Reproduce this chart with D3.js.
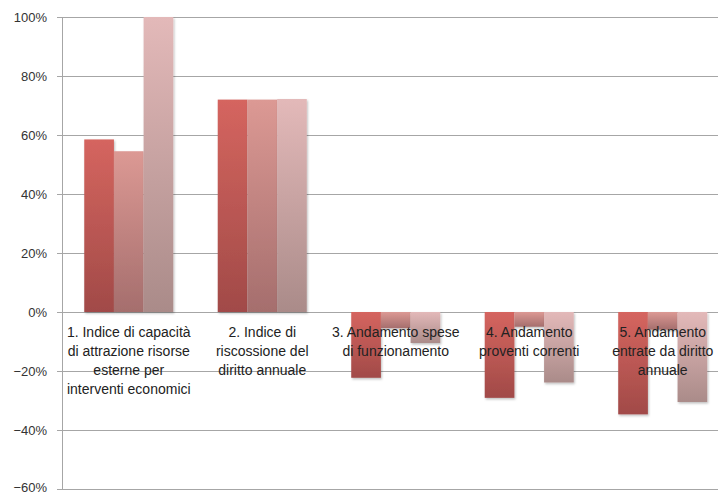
<!DOCTYPE html>
<html>
<head>
<meta charset="utf-8">
<script src="https://cdn.jsdelivr.net/npm/d3@7"></script>
<style>
  body { margin: 0; background: #fff; }
  svg { display: block; font-family: "Liberation Sans", Arial, sans-serif; }
  .tick-label { font-size: 13px; fill: #333; }
  .cat-label { font-size: 14px; fill: #222; }
</style>
</head>
<body>
<svg width="718" height="494"></svg>
<script>
// categories (each already split into the lines seen on the chart)
const categories = ['c1', 'c2', 'c3', 'c4', 'c5'];
const categoryLines = [
  ['1. Indice di capacità', 'di attrazione risorse', 'esterne per', 'interventi economici'],
  ['2. Indice di', 'riscossione del', 'diritto annuale'],
  ['3. Andamento spese', 'di funzionamento'],
  ['4. Andamento', 'proventi correnti'],
  ['5. Andamento', 'entrate da diritto', 'annuale']
];
const series1 = [0.585, 0.72, -0.223, -0.291, -0.347];
const series2 = [0.545, 0.72, -0.055, -0.05, -0.06];
const series3 = [1.0, 0.722, -0.105, -0.239, -0.305];
const yTicks = [-0.6, -0.4, -0.2, 0, 0.2, 0.4, 0.6, 0.8, 1.0];

const allSeries = [series1, series2, series3];
const gradColors = [
  ['#d5655f', '#a14a48'],
  ['#dc9994', '#a56e6d'],
  ['#e3b9b9', '#aa8b89']
];

const svg = d3.select('svg');
const plotLeft = 62, plotRight = 729.5, plotTop = 17, plotBottom = 489;

const y = d3.scaleLinear().domain([-0.6, 1.0]).range([plotBottom, plotTop]);
const x = d3.scaleBand().domain(categories).range([plotLeft, plotRight])
  .paddingInner(0.333).paddingOuter(0.1667);
const xs = d3.scaleBand().domain(d3.range(allSeries.length)).range([0, x.bandwidth()]);

const defs = svg.append('defs');
gradColors.forEach((c, i) => {
  const g = defs.append('linearGradient').attr('id', 'g' + i)
    .attr('x1', 0).attr('y1', 0).attr('x2', 0).attr('y2', 1);
  g.append('stop').attr('offset', '0%').attr('stop-color', c[0]);
  g.append('stop').attr('offset', '100%').attr('stop-color', c[1]);
});
const shadow = defs.append('filter').attr('id', 'shadow')
  .attr('x', '-20%').attr('y', '-20%').attr('width', '140%').attr('height', '140%');
shadow.append('feDropShadow').attr('dx', 1).attr('dy', 1.5).attr('stdDeviation', 1)
  .attr('flood-color', '#000').attr('flood-opacity', 0.25);

// gridlines
svg.append('g').selectAll('line').data(yTicks).enter().append('line')
  .attr('x1', plotLeft - 5).attr('x2', 718)
  .attr('y1', d => Math.round(y(d)) + 0.5).attr('y2', d => Math.round(y(d)) + 0.5)
  .attr('stroke', '#a6a6a6').attr('stroke-width', 1);

// y axis line
svg.append('line').attr('x1', plotLeft + 0.5).attr('x2', plotLeft + 0.5)
  .attr('y1', plotTop).attr('y2', plotBottom + 0.5)
  .attr('stroke', '#a6a6a6');

svg.append('g').selectAll('text').data(yTicks).enter().append('text')
  .attr('class', 'tick-label')
  .attr('x', 47).attr('y', d => Math.min(y(d), 487)).attr('dy', '0.35em')
  .attr('text-anchor', 'end')
  .text(d => d3.format('.0%')(d));

// bars
const groups = svg.append('g').selectAll('g').data(categories).enter().append('g')
  .attr('transform', d => `translate(${x(d)},0)`);

groups.selectAll('rect')
  .data((d, ci) => allSeries.map((s, si) => ({ si, v: s[ci] })))
  .enter().append('rect')
  .attr('x', d => xs(d.si))
  .attr('width', xs.bandwidth())
  .attr('y', d => y(Math.max(0, d.v)))
  .attr('height', d => Math.abs(y(d.v) - y(0)))
  .attr('fill', d => `url(#g${d.si})`)
  .attr('filter', 'url(#shadow)');

// category labels
const lab = svg.append('g').selectAll('text').data(categories).enter().append('text')
  .attr('class', 'cat-label')
  .attr('text-anchor', 'middle')
  .attr('x', d => x(d) + x.bandwidth() / 2)
  .attr('y', y(0) + 24.5);
lab.each(function(d, i) {
  d3.select(this).selectAll('tspan').data(categoryLines[i]).enter().append('tspan')
    .attr('x', x(d) + x.bandwidth() / 2)
    .attr('dy', (t, j) => j === 0 ? 0 : 19.3)
    .text(t => t);
});
</script>
</body>
</html>
